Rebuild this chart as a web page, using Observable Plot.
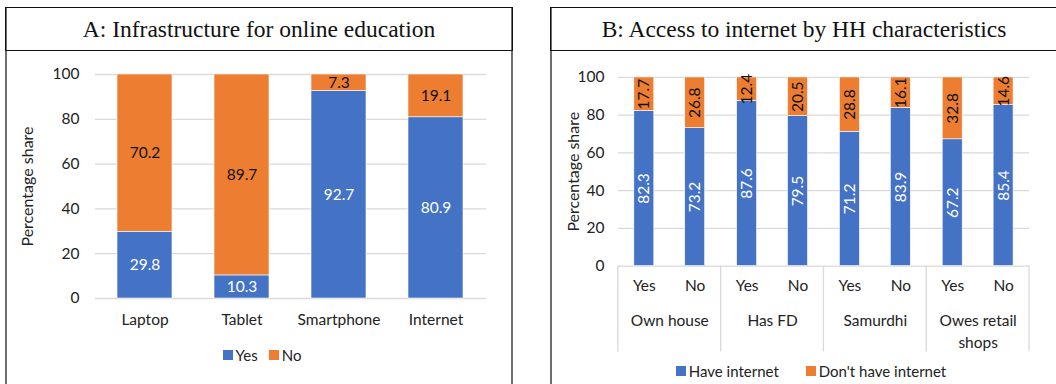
<!DOCTYPE html>
<html>
<head>
<meta charset="utf-8">
<script src="https://cdn.jsdelivr.net/npm/d3@7"></script>
<script src="https://cdn.jsdelivr.net/npm/@observablehq/plot@0.6"></script>
<style>
  html, body { margin: 0; padding: 0; background: #fff; }
  body { position: relative; width: 1056px; height: 384px; overflow: hidden; font-family: Lato, "Noto Sans", sans-serif; }
  .panel { position: absolute; top: 7px; height: 400px; box-sizing: border-box;
           border-left: 2px solid #6e6e6e; border-right: 2px solid #6e6e6e; }
  .title { position: absolute; left: -2px; right: -2px; top: 0; height: 44px; box-sizing: border-box;
           border: 1.5px solid #111; display: flex; align-items: center; justify-content: center;
           font-family: "Liberation Serif", "DejaVu Serif", serif; font-size: 23.5px; color: #111; }
  .chart { position: absolute; }
  .legend { position: absolute; display: flex; justify-content: center; align-items: center;
            font-size: 15px; color: #222; white-space: nowrap; }
  .legend .item { display: flex; align-items: center; }
  .legend .sw { width: 10px; height: 10px; margin-right: 3px; }
</style>
</head>
<body>
<div class="panel" style="left:5px;width:508px;"><div class="title">A: Infrastructure for online education</div></div>
<div class="panel" style="left:550px;width:508px;"><div class="title">B: Access to internet by HH characteristics</div></div>
<div id="chartA" class="chart" style="left:6px;top:50px;"></div>
<div id="chartB" class="chart" style="left:551px;top:50px;"></div>
<div id="legendA" class="legend" style="left:162px;top:346px;width:200px;height:18px;"></div>
<div id="legendB" class="legend" style="left:661px;top:362px;width:300px;height:18px;"></div>
<script>
// Panel A: devices available for online education
const devices = ["Laptop", "Tablet", "Smartphone", "Internet"];
const deviceSeries = ["Yes", "No"];
const deviceYes = [29.8, 10.3, 92.7, 80.9];
const deviceNo = [70.2, 89.7, 7.3, 19.1];

// Panel B: internet access by household characteristic
const groups = ["Own house", "Has FD", "Samurdhi", "Owes retail shops"];
const answers = ["Yes", "No"];
const accessSeries = ["Have internet", "Don't have internet"];
const haveInternet = [82.3, 73.2, 87.6, 79.5, 71.2, 83.9, 67.2, 85.4];
const noInternet = [17.7, 26.8, 12.4, 20.5, 28.8, 16.1, 32.8, 14.6];

const yTicks = [0, 20, 40, 60, 80, 100];
const yLabel = "Percentage share";
const blue = "#4472C4", orange = "#ED7D31";
const fmt = v => v.toFixed(1);

const deviceRows = [];
devices.forEach((c, i) => {
  deviceRows.push({cat: c, series: deviceSeries[0], value: deviceYes[i]});
  deviceRows.push({cat: c, series: deviceSeries[1], value: deviceNo[i]});
});

const accessRows = [];
groups.forEach((g, gi) => {
  answers.forEach((a, ai) => {
    const k = gi * answers.length + ai;
    accessRows.push({group: g, ans: a, series: accessSeries[0], value: haveInternet[k]});
    accessRows.push({group: g, ans: a, series: accessSeries[1], value: noInternet[k]});
  });
});

const chartA = Plot.plot({
  width: 505, height: 290,
  marginTop: 24, marginBottom: 42, marginLeft: 89, marginRight: 25,
  style: {fontFamily: "Lato, 'Noto Sans', sans-serif", fontSize: "15px", color: "#222", background: "transparent"},
  x: {domain: devices, paddingInner: 0.43, paddingOuter: 0.215, label: null},
  y: {domain: [0, 100], label: null},
  color: {domain: deviceSeries, range: [blue, orange]},
  marks: [
    Plot.gridY(yTicks, {stroke: "#d9d9d9", strokeOpacity: 1, strokeWidth: 1.3}),
    Plot.axisY(yTicks, {tickSize: 0, tickPadding: 16, label: null, fontSize: 15.5}),
    Plot.axisX({tickSize: 0, tickPadding: 15, label: null, fontSize: 15.5}),
    Plot.barY(deviceRows, {x: "cat", y: "value", fill: "series", z: "series", order: deviceSeries,
                           stroke: "#fff", strokeWidth: 0.6}),
    Plot.text(deviceRows, Plot.stackY({x: "cat", y: "value", z: "series", order: deviceSeries,
      text: d => d.series === deviceSeries[0] ? fmt(d.value) : null, fill: "#fff", fontSize: 15.5})),
    Plot.text(deviceRows, Plot.stackY({x: "cat", y: "value", z: "series", order: deviceSeries,
      text: d => d.series === deviceSeries[1] ? fmt(d.value) : null, fill: "#111", fontSize: 15.5})),
    Plot.text([yLabel], {text: d => d, frameAnchor: "left", dx: -68, rotate: -90,
      textAnchor: "middle", fill: "#222", fontSize: 16})
  ]
});
document.getElementById("chartA").append(chartA);

const chartB = Plot.plot({
  width: 506, height: 310,
  marginTop: 27, marginBottom: 94, marginLeft: 66, marginRight: 26,
  style: {fontFamily: "Lato, 'Noto Sans', sans-serif", fontSize: "15px", color: "#222", background: "transparent"},
  fx: {domain: groups, padding: 0, label: null},
  x: {domain: answers, paddingInner: 0.61, paddingOuter: 0.305, label: null},
  y: {domain: [0, 100], label: null},
  color: {domain: accessSeries, range: [blue, orange]},
  marks: [
    Plot.gridY(yTicks, {stroke: "#d9d9d9", strokeOpacity: 1, strokeWidth: 1.3}),
    Plot.axisY(yTicks, {tickSize: 0, tickPadding: 14, label: null, fontSize: 15.5}),
    Plot.axisX({tickSize: 0, tickPadding: 14, label: null, fontSize: 15.5}),
    Plot.axisFx({anchor: "bottom", tickSize: 0, tickPadding: 45, label: null, fontSize: 15.5,
                 lineWidth: 7, lineHeight: 1.4}),
    Plot.barY(accessRows, {fx: "group", x: "ans", y: "value", fill: "series", z: "series",
                           order: accessSeries, stroke: "#fff", strokeWidth: 0.6}),
    Plot.text(accessRows, Plot.stackY({fx: "group", x: "ans", y: "value", z: "series", order: accessSeries,
      text: d => d.series === accessSeries[0] ? fmt(d.value) : null, fill: "#fff", rotate: -90, fontSize: 15.5})),
    Plot.text(accessRows, Plot.stackY({fx: "group", x: "ans", y: "value", z: "series", order: accessSeries,
      text: d => d.series === accessSeries[1] ? fmt(d.value) : null, fill: "#111", rotate: -90, fontSize: 15.5})),
    Plot.text([yLabel], {text: d => d, fx: () => groups[0], frameAnchor: "left", dx: -45, rotate: -90,
      textAnchor: "middle", fill: "#222", fontSize: 16})
  ]
});
document.getElementById("chartB").append(chartB);

// Group separators of the two-level category axis, placed from the facet and y scales
{
  const fx = chartB.scale("fx");
  const y = chartB.scale("y");
  const y0 = y.apply(0);
  const edges = groups.map(g => fx.apply(g)).concat([fx.apply(groups[groups.length - 1]) + fx.bandwidth]);
  d3.select(chartB).append("g")
    .attr("stroke", "#d9d9d9").attr("stroke-width", 1.3)
    .selectAll("line").data(edges).join("line")
    .attr("x1", d => d).attr("x2", d => d)
    .attr("y1", y0).attr("y2", y0 + 86);
}

function legend(id, names) {
  const box = d3.select("#" + id);
  names.forEach((n, i) => {
    const it = box.append("div").attr("class", "item")
      .style("margin-left", i ? (id === "legendA" ? "11px" : "27px") : "0");
    it.append("div").attr("class", "sw").style("background", [blue, orange][i]);
    it.append("span").text(n);
  });
}
legend("legendA", deviceSeries);
legend("legendB", accessSeries);
</script>
</body>
</html>
